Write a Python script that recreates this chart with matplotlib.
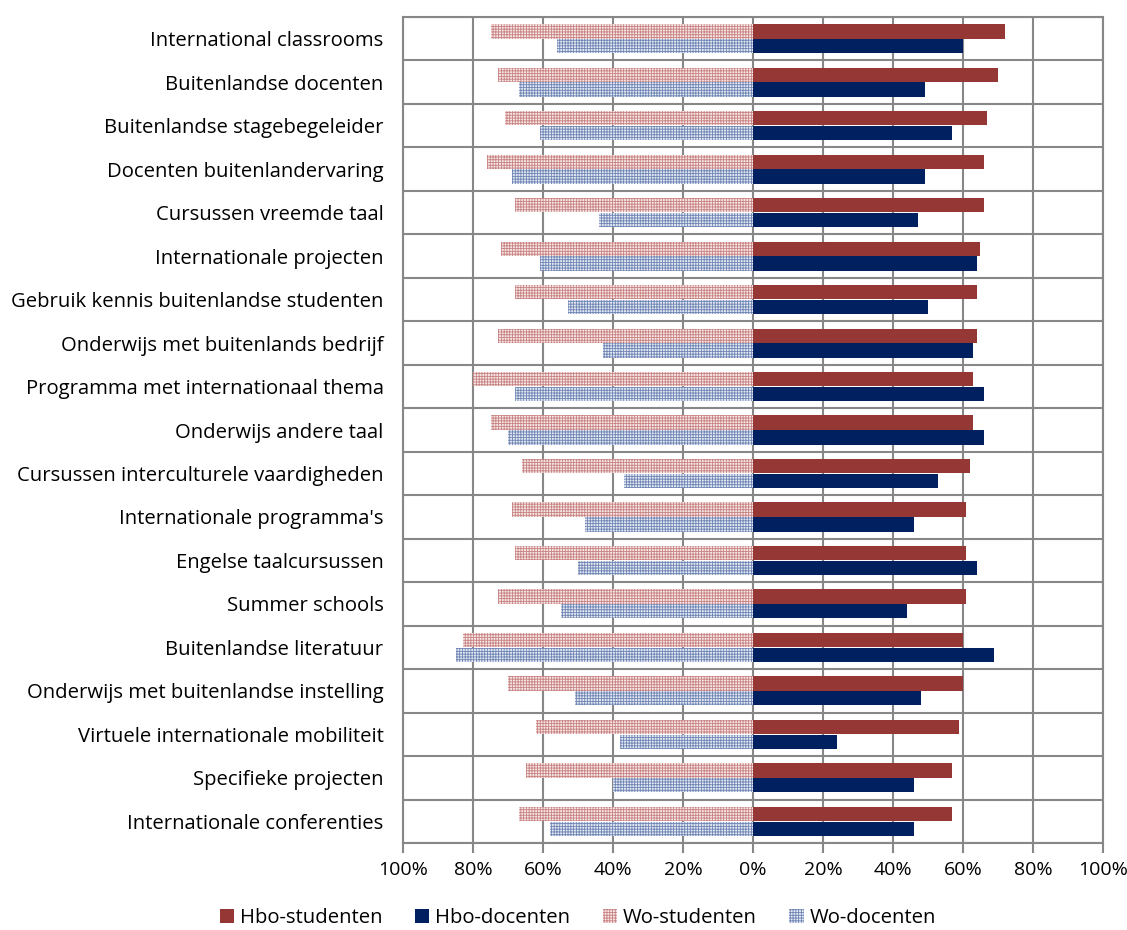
import numpy as np
import matplotlib.pyplot as plt
from matplotlib.ticker import FixedLocator

plt.rcParams['font.family'] = ['Open Sans', 'DejaVu Sans']
plt.rcParams['hatch.linewidth'] = 0.6

# Onderdelen van internationalisering, percentages per groep
categories = [
    "International classrooms", "Buitenlandse docenten", "Buitenlandse stagebegeleider",
    "Docenten buitenlandervaring", "Cursussen vreemde taal", "Internationale projecten",
    "Gebruik kennis buitenlandse studenten", "Onderwijs met buitenlands bedrijf",
    "Programma met internationaal thema", "Onderwijs andere taal",
    "Cursussen interculturele vaardigheden", "Internationale programma's",
    "Engelse taalcursussen", "Summer schools", "Buitenlandse literatuur",
    "Onderwijs met buitenlandse instelling", "Virtuele internationale mobiliteit",
    "Specifieke projecten", "Internationale conferenties",
]
hbo_studenten = [72, 70, 67, 66, 66, 65, 64, 64, 63, 63, 62, 61, 61, 61, 60, 60, 59, 57, 57]
hbo_docenten = [60, 49, 57, 49, 47, 64, 50, 63, 66, 66, 53, 46, 64, 44, 69, 48, 24, 46, 46]
wo_studenten = [75, 73, 71, 76, 68, 72, 68, 73, 80, 75, 66, 69, 68, 73, 83, 70, 62, 65, 67]
wo_docenten = [56, 67, 61, 69, 44, 61, 53, 43, 68, 70, 37, 48, 50, 55, 85, 51, 38, 40, 58]
tick_values = [-100, -80, -60, -40, -20, 0, 20, 40, 60, 80, 100]

y = np.arange(len(categories))
h = 0.33
off = 0.17

fig = plt.figure(figsize=(11.27, 9.30), dpi=100)
ax = fig.add_axes([0.3576, 0.0935, 0.6211, 0.8882])

ax.barh(y - off, hbo_studenten, height=h, color='#953735', label='Hbo-studenten', zorder=3)
ax.barh(y + off, hbo_docenten, height=h, color='#002060', label='Hbo-docenten', zorder=3)
ax.barh(y - off, -np.array(wo_studenten), height=h, color='#f6e6e6', edgecolor='#c98383',
        linewidth=0, hatch='++++++', label='Wo-studenten', zorder=3)
ax.barh(y + off, -np.array(wo_docenten), height=h, color='#e4e8f2', edgecolor='#6f86b5',
        linewidth=0, hatch='++++++', label='Wo-docenten', zorder=3)

grid_c = '#878787'
ax.set_xlim(-100, 100)
ax.set_ylim(len(categories) - 0.5, -0.5)
ax.set_xticks(tick_values)
ax.set_xticklabels([f"{abs(v)}%" for v in tick_values], fontsize=14)
ax.set_yticks(y)
ax.set_yticklabels(categories, fontsize=14.6)
ax.yaxis.set_minor_locator(FixedLocator(np.arange(-0.5, len(categories), 1)))
ax.tick_params(axis='y', which='both', length=0, pad=14)
ax.tick_params(axis='x', length=7, width=1.5, color=grid_c, pad=6)
ax.grid(axis='x', color=grid_c, linewidth=1.5, zorder=1)
ax.grid(axis='y', which='minor', color=grid_c, linewidth=1.5, zorder=1)
for s in ax.spines.values():
    s.set_color(grid_c)
    s.set_linewidth(1.5)

ax.legend(loc='center', bbox_to_anchor=(0.25, -0.091), ncol=4, frameon=False,
          fontsize=14.6, handlelength=0.7, handleheight=0.7, handletextpad=0.3,
          columnspacing=1.6)

fig.savefig('out.png', dpi=100)
